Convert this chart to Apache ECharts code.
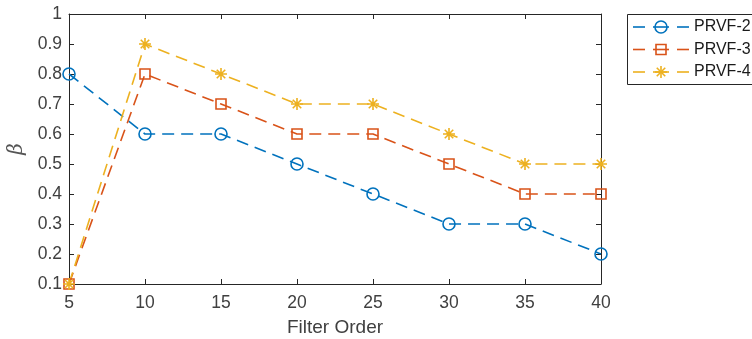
<!DOCTYPE html>
<html>
<head>
<meta charset="utf-8">
<script src="https://cdn.jsdelivr.net/npm/echarts@6/dist/echarts.min.js"></script>
<style>
  html, body { margin: 0; padding: 0; background: #fff; }
  #chart { width: 752px; height: 339px; }
</style>
</head>
<body>
<div id="chart"></div>
<script>
// Filter order on the x axis, β per variant
const filterOrders = [5, 10, 15, 20, 25, 30, 35, 40];
const prvf2 = [0.8, 0.6, 0.6, 0.5, 0.4, 0.3, 0.3, 0.2];
const prvf3 = [0.1, 0.8, 0.7, 0.6, 0.6, 0.5, 0.4, 0.4];
const prvf4 = [0.1, 0.9, 0.8, 0.7, 0.7, 0.6, 0.5, 0.5];
const seriesNames = ['PRVF-2', 'PRVF-3', 'PRVF-4'];
const xTicks = { min: 5, max: 40, step: 5 };
const yTicks = { min: 0.1, max: 1, step: 0.1 };

const colors = ['#0072BD', '#D95319', '#EDB120'];
const axisColor = '#262626';
const textColor = '#404040';
const font = 'Liberation Sans, Arial, Helvetica, sans-serif';
const dash = [12, 7];
const asterisk = 'path://M0,-10L0,10M-10,0L10,0M-7.07,-7.07L7.07,7.07M-7.07,7.07L7.07,-7.07';

const symbols = [
  { symbol: 'circle', size: 12 },
  { symbol: 'rect', size: 10 },
  { symbol: asterisk, size: 12 }
];

function pairs(values) {
  return filterOrders.map((x, i) => [x, values[i]]);
}

function makeSeries(name, values, idx) {
  return {
    name: name,
    type: 'line',
    data: pairs(values),
    symbol: symbols[idx].symbol,
    symbolSize: symbols[idx].size,
    showAllSymbol: true,
    clip: false,
    animation: false,
    lineStyle: { color: colors[idx], width: 1.6, type: dash },
    itemStyle: { color: 'rgba(0,0,0,0)', borderColor: colors[idx], borderWidth: 1.6 },
    emphasis: { disabled: true }
  };
}

const grid = { left: 69, right: 151, top: 14, bottom: 55, outerBoundsMode: 'none', containLabel: false };

const tickStyle = { show: true, inside: true, length: 5, lineStyle: { color: axisColor, width: 1 } };
const lineStyle = { show: true, lineStyle: { color: axisColor, width: 1 } };

// legend drawn as graphic items
const legendX = 627, legendY = 14, rowH = 22.5;
const legendItems = [
  { type: 'rect', shape: { x: legendX + 0.5, y: legendY + 0.5, width: 140, height: 70 },
    style: { fill: '#fff', stroke: axisColor, lineWidth: 1 }, z: 10 }
];
seriesNames.forEach((name, i) => {
  const cy = legendY + 13 + i * rowH;
  legendItems.push({ type: 'line', shape: { x1: 633, y1: cy, x2: 645, y2: cy },
    style: { stroke: colors[i], lineWidth: 1.6 }, z: 11 });
  legendItems.push({ type: 'line', shape: { x1: 677, y1: cy, x2: 689, y2: cy },
    style: { stroke: colors[i], lineWidth: 1.6 }, z: 11 });
  legendItems.push({ type: 'line', shape: { x1: 653, y1: cy, x2: 669, y2: cy },
    style: { stroke: colors[i], lineWidth: 1.6 }, z: 11 });
  if (i === 0) {
    legendItems.push({ type: 'circle', shape: { cx: 661, cy: cy, r: 6 },
      style: { fill: 'none', stroke: colors[i], lineWidth: 1.6 }, z: 12 });
  } else if (i === 1) {
    legendItems.push({ type: 'rect', shape: { x: 656, y: cy - 5, width: 10, height: 10 },
      style: { fill: 'none', stroke: colors[i], lineWidth: 1.6 }, z: 12 });
  } else {
    const r = 6, d = 4.24;
    [[0, -r, 0, r], [-r, 0, r, 0], [-d, -d, d, d], [-d, d, d, -d]].forEach(s => {
      legendItems.push({ type: 'line', shape: { x1: 661 + s[0], y1: cy + s[1], x2: 661 + s[2], y2: cy + s[3] },
        style: { stroke: colors[i], lineWidth: 1.6 }, z: 12 });
    });
  }
  legendItems.push({ type: 'text', x: 694, y: cy,
    style: { text: name, fill: '#1a1a1a', font: '16px ' + font, textVerticalAlign: 'middle' }, z: 12 });
});

const chart = echarts.init(document.getElementById('chart'), null, { renderer: 'canvas' });
chart.setOption({
  backgroundColor: '#fff',
  animation: false,
  grid: grid,
  xAxis: [
    {
      type: 'value', min: xTicks.min, max: xTicks.max, interval: xTicks.step,
      position: 'bottom',
      name: 'Filter Order', nameLocation: 'middle', nameGap: 34,
      nameTextStyle: { color: textColor, fontSize: 19, fontFamily: font },
      axisLine: lineStyle, axisTick: tickStyle,
      axisLabel: { color: textColor, fontSize: 17.5, fontFamily: font, margin: 10 },
      splitLine: { show: false }
    },
    {
      type: 'value', min: xTicks.min, max: xTicks.max, interval: xTicks.step,
      position: 'top',
      axisLine: lineStyle, axisTick: tickStyle,
      axisLabel: { show: false }, splitLine: { show: false }
    }
  ],
  yAxis: [
    {
      type: 'value', min: yTicks.min, max: yTicks.max, interval: yTicks.step,
      position: 'left',
      name: 'β', nameLocation: 'middle', nameGap: 36,
      nameTextStyle: { color: '#555', fontSize: 20, fontFamily: 'DejaVu Serif, serif', fontStyle: 'italic', fontWeight: 'lighter' },
      axisLine: lineStyle, axisTick: tickStyle,
      axisLabel: {
        color: textColor, fontSize: 17.5, fontFamily: font, margin: 7,
        formatter: v => (Math.abs(v - 1) < 1e-9 ? '1' : v.toFixed(1))
      },
      splitLine: { show: false }
    },
    {
      type: 'value', min: yTicks.min, max: yTicks.max, interval: yTicks.step,
      position: 'right',
      axisLine: lineStyle, axisTick: tickStyle,
      axisLabel: { show: false }, splitLine: { show: false }
    }
  ],
  series: [
    makeSeries(seriesNames[0], prvf2, 0),
    makeSeries(seriesNames[1], prvf3, 1),
    makeSeries(seriesNames[2], prvf4, 2)
  ],
  graphic: legendItems
});
</script>
</body>
</html>
